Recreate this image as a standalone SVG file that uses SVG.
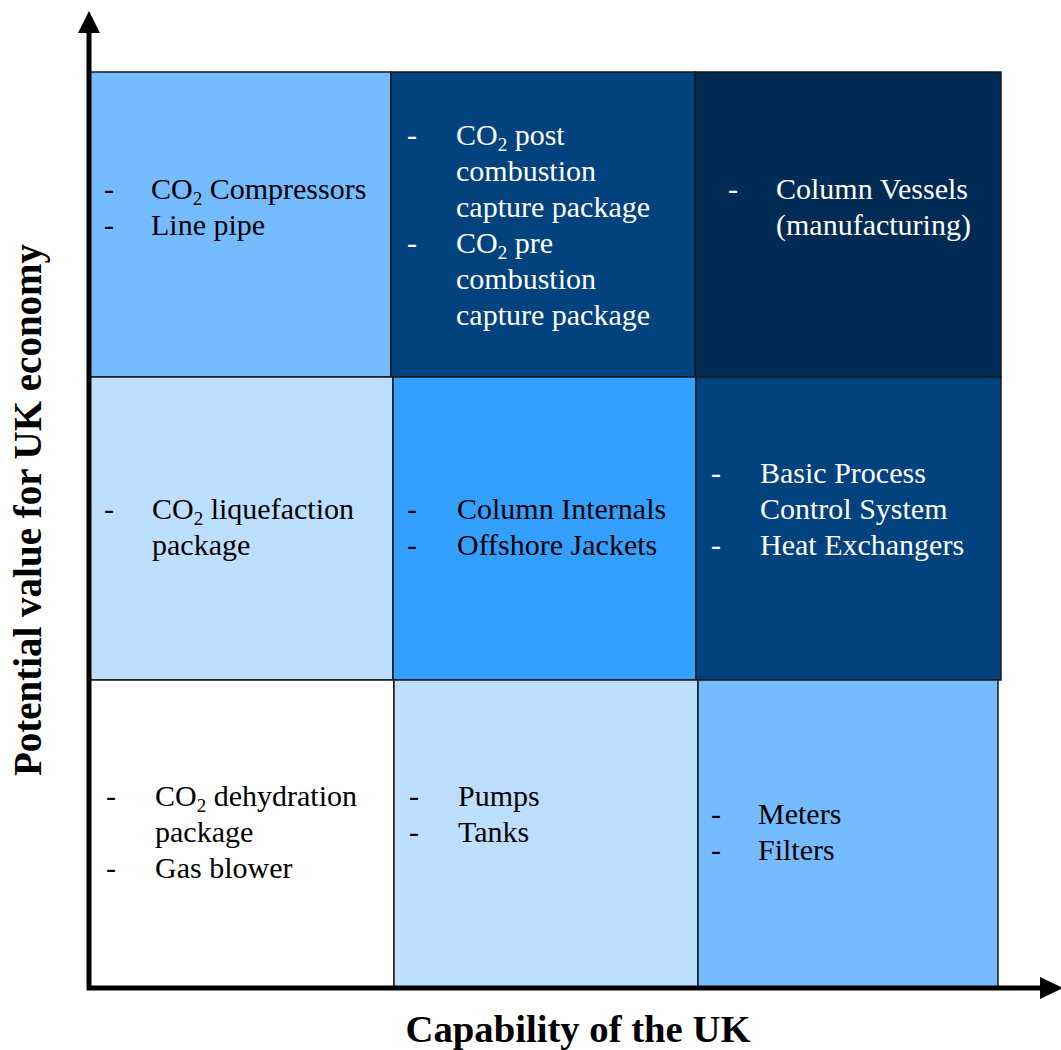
<svg xmlns="http://www.w3.org/2000/svg" width="1061" height="1050" viewBox="0 0 1061 1050">
<style>
.cell{stroke:#1a1a1a;stroke-width:1.5}
.t{font-family:"Liberation Serif","Times New Roman",serif;font-size:30px;fill:#000}
.w{fill:#fff}
.sub{font-size:19px}
.ax{font-family:"Liberation Serif","Times New Roman",serif;font-size:38.7px;font-weight:bold;fill:#000}
.ay{font-size:39px}
.axis{stroke:#000;stroke-width:5;fill:none}
</style>
<rect width="1061" height="1050" fill="#fff"/>

<g id="cell-r1c1">
<rect class="cell" x="89" y="72" width="302" height="305" fill="#75BBFF"/>
<text class="t" x="104" y="199">-</text>
<text class="t" x="151" y="199">CO<tspan class="sub" dy="6">2</tspan><tspan dy="-6"> Compressors</tspan></text>
<text class="t" x="104" y="235">-</text>
<text class="t" x="151" y="235">Line pipe</text>
</g>

<g id="cell-r1c2">
<rect class="cell" x="391" y="72" width="304" height="305" fill="#02427F"/>
<text class="t w" x="407" y="145">-</text>
<text class="t w" x="456" y="145">CO<tspan class="sub" dy="6">2</tspan><tspan dy="-6"> post</tspan></text>
<text class="t w" x="456" y="181">combustion</text>
<text class="t w" x="456" y="217">capture package</text>
<text class="t w" x="407" y="253">-</text>
<text class="t w" x="456" y="253">CO<tspan class="sub" dy="6">2</tspan><tspan dy="-6"> pre</tspan></text>
<text class="t w" x="456" y="289">combustion</text>
<text class="t w" x="456" y="325">capture package</text>
</g>

<g id="cell-r1c3">
<rect class="cell" x="695" y="72" width="306" height="305" fill="#002B55"/>
<text class="t w" x="728" y="199">-</text>
<text class="t w" x="776" y="199">Column Vessels</text>
<text class="t w" x="776" y="235">(manufacturing)</text>
</g>

<g id="cell-r2c1">
<rect class="cell" x="89" y="377" width="304" height="303" fill="#BDDFFF"/>
<text class="t" x="104" y="519">-</text>
<text class="t" x="152" y="519">CO<tspan class="sub" dy="6">2</tspan><tspan dy="-6"> liquefaction</tspan></text>
<text class="t" x="152" y="555">package</text>
</g>

<g id="cell-r2c2">
<rect class="cell" x="393" y="377" width="303" height="303" fill="#33A0FF"/>
<text class="t" x="407" y="519">-</text>
<text class="t" x="457" y="519">Column Internals</text>
<text class="t" x="407" y="555">-</text>
<text class="t" x="457" y="555">Offshore Jackets</text>
</g>

<g id="cell-r2c3">
<rect class="cell" x="696" y="377" width="305" height="303" fill="#02427F"/>
<text class="t w" x="711" y="483">-</text>
<text class="t w" x="760" y="483">Basic Process</text>
<text class="t w" x="760" y="519">Control System</text>
<text class="t w" x="711" y="555">-</text>
<text class="t w" x="760" y="555">Heat Exchangers</text>
</g>

<g id="cell-r3c1">
<rect class="cell" x="89" y="680" width="305" height="307" fill="#FFFFFF"/>
<text class="t" x="106" y="806">-</text>
<text class="t" x="155" y="806">CO<tspan class="sub" dy="6">2</tspan><tspan dy="-6"> dehydration</tspan></text>
<text class="t" x="155" y="842">package</text>
<text class="t" x="106" y="878">-</text>
<text class="t" x="155" y="878">Gas blower</text>
</g>

<g id="cell-r3c2">
<rect class="cell" x="394" y="680" width="304" height="307" fill="#BDDFFF"/>
<text class="t" x="409" y="806">-</text>
<text class="t" x="458" y="806">Pumps</text>
<text class="t" x="409" y="842">-</text>
<text class="t" x="458" y="842">Tanks</text>
</g>

<g id="cell-r3c3">
<rect class="cell" x="698" y="680" width="300" height="307" fill="#75BBFF"/>
<text class="t" x="711" y="824">-</text>
<text class="t" x="758" y="824">Meters</text>
<text class="t" x="711" y="860">-</text>
<text class="t" x="758" y="860">Filters</text>
</g>

<g id="connectors">
<line class="axis" x1="89" y1="990" x2="89" y2="30"/>
<polygon points="89,11 78,33 100,33" fill="#000"/>
<line class="axis" x1="87" y1="988" x2="1045" y2="988"/>
<polygon points="1063,988 1040,977 1040,999" fill="#000"/>
</g>

<g id="labels">
<text class="ax" x="578" y="1042" text-anchor="middle">Capability of the UK</text>
<text class="ax ay" transform="translate(41,510) rotate(-90)" text-anchor="middle">Potential value for UK economy</text>
</g>
</svg>
